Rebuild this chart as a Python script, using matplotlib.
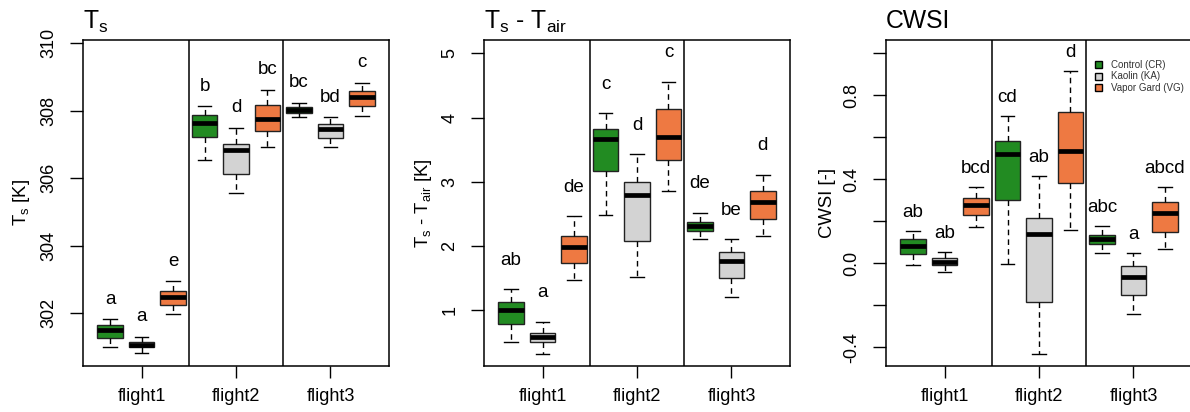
import matplotlib.pyplot as plt
from matplotlib.patches import Patch

plt.rcParams['font.family'] = ['Liberation Sans', 'DejaVu Sans']
plt.rcParams['mathtext.default'] = 'regular'

flights = ['flight1', 'flight2', 'flight3']
treatments = ['Control (CR)', 'Kaolin (KA)', 'Vapor Gard (VG)']
colors = ['#228B22', '#D3D3D3', '#EE7942']

# box order: flight1 CR, KA, VG | flight2 CR, KA, VG | flight3 CR, KA, VG
ts_whislo = [300.99, 300.82, 301.97, 306.53, 305.57, 306.92, 307.81, 306.93, 307.86]
ts_q1 = [301.28, 300.99, 302.24, 307.22, 306.14, 307.40, 307.95, 307.19, 308.13]
ts_med = [301.50, 301.06, 302.48, 307.64, 306.85, 307.76, 308.02, 307.47, 308.40]
ts_q3 = [301.65, 301.15, 302.66, 307.87, 307.02, 308.17, 308.10, 307.62, 308.59]
ts_whishi = [301.82, 301.31, 302.95, 308.13, 307.49, 308.62, 308.23, 307.81, 308.82]
ts_letters = ['a', 'a', 'e', 'b', 'd', 'bc', 'bc', 'bd', 'c']

dt_whislo = [0.50, 0.32, 1.47, 2.48, 1.52, 2.85, 2.11, 1.21, 2.16]
dt_q1 = [0.79, 0.51, 1.74, 3.17, 2.08, 3.34, 2.24, 1.50, 2.42]
dt_med = [1.00, 0.58, 1.99, 3.66, 2.80, 3.70, 2.31, 1.76, 2.69]
dt_q3 = [1.13, 0.65, 2.16, 3.82, 2.99, 4.13, 2.38, 1.91, 2.86]
dt_whishi = [1.33, 0.82, 2.46, 4.07, 3.43, 4.56, 2.52, 2.11, 3.11]
dt_letters = ['ab', 'a', 'de', 'c', 'd', 'c', 'de', 'be', 'd']

cwsi_whislo = [-0.011, -0.044, 0.173, -0.003, -0.433, 0.157, 0.046, -0.243, 0.065]
cwsi_q1 = [0.043, -0.010, 0.229, 0.300, -0.184, 0.379, 0.090, -0.154, 0.146]
cwsi_med = [0.083, 0.006, 0.276, 0.517, 0.138, 0.535, 0.114, -0.065, 0.237]
cwsi_q3 = [0.113, 0.022, 0.308, 0.583, 0.213, 0.720, 0.133, -0.016, 0.289]
cwsi_whishi = [0.152, 0.054, 0.363, 0.700, 0.414, 0.914, 0.176, 0.046, 0.363]
cwsi_letters = ['ab', 'ab', 'bcd', 'cd', 'ab', 'd', 'abc', 'a', 'abcd']


def draw_panel(ax, lo, q1, med, q3, hi, letters, ylim, yticks, yticklabels,
               ylabel, title, offset, label_x):
    pos = list(range(1, len(med) + 1))
    stats = [dict(whislo=a, q1=b, med=c, q3=d, whishi=e, fliers=[])
             for a, b, c, d, e in zip(lo, q1, med, q3, hi)]
    bp = ax.bxp(stats, positions=pos, widths=0.8, capwidths=0.42,
                patch_artist=True, showfliers=False,
                boxprops=dict(edgecolor='#222222', linewidth=1.0),
                medianprops=dict(color='black', linewidth=3.4,
                                 solid_capstyle='butt'),
                whiskerprops=dict(color='black', linewidth=1.0,
                                  linestyle=(0, (4, 3))),
                capprops=dict(color='black', linewidth=1.0))
    for patch, c in zip(bp['boxes'], colors * len(flights)):
        patch.set_facecolor(c)

    for x, y, t in zip(pos, hi, letters):
        ax.text(x, y + offset, t, ha='center', va='center', fontsize=13.5)

    ax.axvline(3.5, color='black', lw=1.1)
    ax.axvline(6.5, color='black', lw=1.1)

    ax.set_xlim(0.14, 9.86)
    ax.set_ylim(*ylim)
    ax.set_xticks([2, 5, 8], flights, fontsize=13)
    ax.set_yticks(yticks, yticklabels, fontsize=13)
    for lbl in ax.get_yticklabels():
        lbl.set_rotation(90)
        lbl.set_va('center')
    ax.tick_params(axis='y', direction='out', length=9.4, width=1, pad=9)
    ax.tick_params(axis='x', direction='out', length=8.6, width=1, pad=7)
    for s in ax.spines.values():
        s.set_linewidth(1.1)

    ax.set_ylabel(ylabel, fontsize=13.3, va='center')
    ax.yaxis.set_label_coords(label_x, 0.5)
    ax.set_title(title, loc='left', fontsize=17.8, pad=8.4)


fig = plt.figure(figsize=(11.9, 4.12), dpi=100)
W, H = 1190, 412
bottom, height = 46 / H, 326 / H
width = 306 / W

ax1 = fig.add_axes([83 / W, bottom, width, height])
draw_panel(ax1, ts_whislo, ts_q1, ts_med, ts_q3, ts_whishi, ts_letters,
           (300.44, 310.1), [302, 304, 306, 308, 310],
           ['302', '304', '306', '308', '310'],
           'T$_s$ [K]', 'T$_s$', 0.6, -62 / 306)

ax2 = fig.add_axes([484 / W, bottom, width, height])
draw_panel(ax2, dt_whislo, dt_q1, dt_med, dt_q3, dt_whishi, dt_letters,
           (0.13, 5.21), [1, 2, 3, 4, 5], ['1', '2', '3', '4', '5'],
           'T$_s$ - T$_{air}$ [K]', 'T$_s$ - T$_{air}$', 0.45, -61 / 306)

ax3 = fig.add_axes([886 / W, bottom, width, height])
draw_panel(ax3, cwsi_whislo, cwsi_q1, cwsi_med, cwsi_q3, cwsi_whishi,
           cwsi_letters, (-0.49, 1.062),
           [-0.4, -0.2, 0.0, 0.2, 0.4, 0.6, 0.8, 1.0],
           ['-0.4', '', '0.0', '', '0.4', '', '0.8', ''],
           'CWSI [-]', 'CWSI', 0.088, -59 / 306)

handles = [Patch(facecolor=c, edgecolor='black', linewidth=1.0) for c in colors]
fig.legend(handles, treatments, loc='upper left',
           bbox_to_anchor=(1095 / W, 1 - 60 / H), frameon=False,
           fontsize=7, borderpad=0, borderaxespad=0, handlelength=0.75,
           handleheight=0.75, handletextpad=0.9, labelspacing=0.15,
           labelcolor='#333333')

fig.savefig('out.png', dpi=100)
